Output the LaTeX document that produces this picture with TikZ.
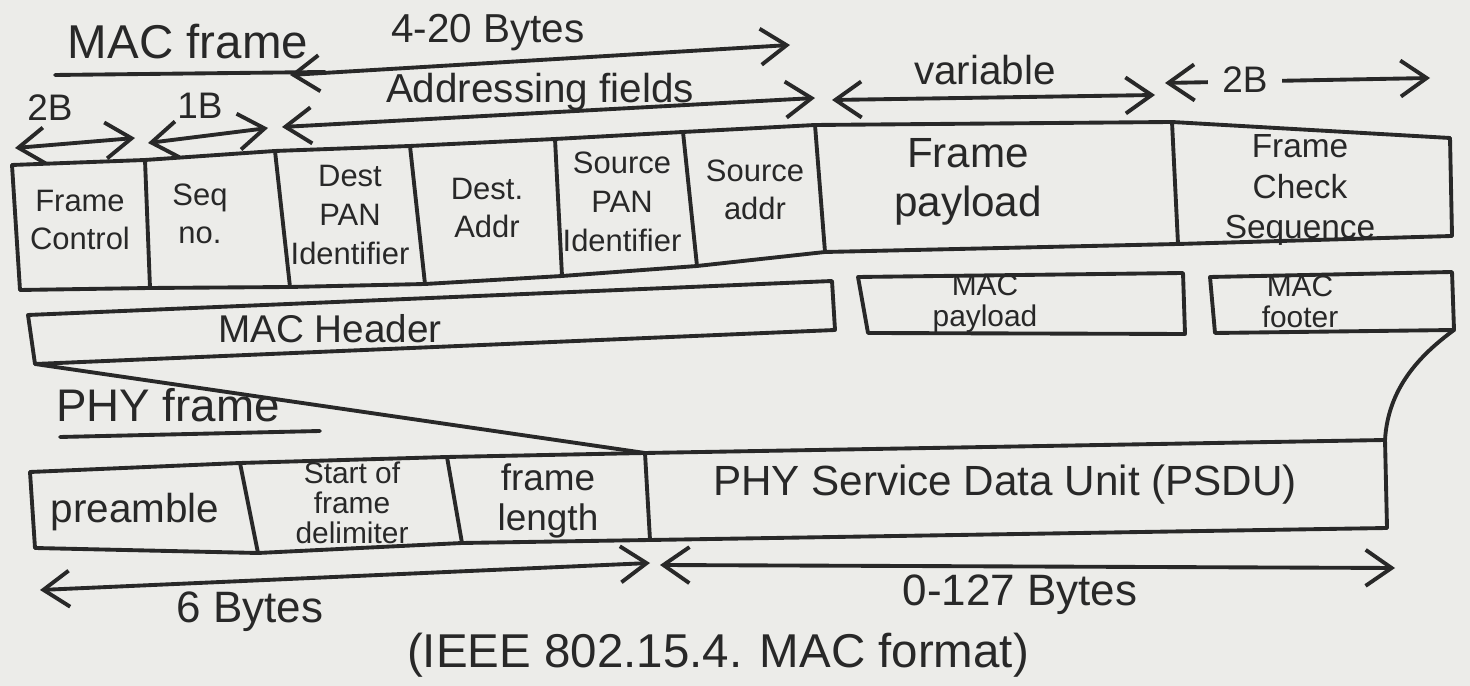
\documentclass[tikz,border=0pt]{standalone}
\usepackage{fontspec}
\setmainfont{Liberation Sans}
\usetikzlibrary{arrows.meta}
\definecolor{paper}{RGB}{236,236,233}
\definecolor{ink}{RGB}{40,40,40}
\tikzset{
  pen/.style={draw=ink, line width=1.1pt, line cap=round, line join=round},
  dimline/.style={pen, {Straight Barb[length=2.6mm,width=3.6mm]}-{Straight Barb[length=2.6mm,width=3.6mm]}},
  cell/.style={text=ink, font=\fontsize{8.8}{11}\selectfont, align=center, inner sep=1pt},
  bigcell/.style={text=ink, font=\fontsize{12}{14}\selectfont, align=center, inner sep=1pt},
  lbl/.style={text=ink, font=\fontsize{11.5}{13}\selectfont, inner sep=1pt},
  title/.style={text=ink, font=\fontsize{13.5}{16}\selectfont, inner sep=1pt},
}
\begin{document}
\begin{tikzpicture}[x=0.01cm,y=-0.01cm]
\fill[paper] (0,0) rectangle (1470,686);
\useasboundingbox (0,0) rectangle (1470,686);

% ---------- top labels and dimension arrows ----------
\node[title] (macframe) at (188,42) {MAC frame};
\draw[pen] (55,75) -- (325,72);
\node[lbl] (b420) at (488,33) {4-20 Bytes};
\coordinate (a1l) at (290,75); \coordinate (a1r) at (790,45);
\draw[dimline] (a1l) -- (a1r);

\node[lbl] (addr) at (540,92) {Addressing fields};
\coordinate (a2l) at (282,127); \coordinate (a2r) at (815,98);
\draw[dimline] (a2l) -- (a2r);

\node[lbl, font=\fontsize{10.5}{12}\selectfont] (twoB) at (50,108) {2B};
\coordinate (a3l) at (15,148); \coordinate (a3r) at (135,138);
\draw[dimline] (a3l) -- (a3r);

\node[lbl, font=\fontsize{10.5}{12}\selectfont] (oneB) at (200,106) {1B};
\coordinate (a4l) at (148,143); \coordinate (a4r) at (268,128);
\draw[dimline] (a4l) -- (a4r);

\node[lbl] (var) at (985,70) {variable};
\coordinate (a5l) at (832,100); \coordinate (a5r) at (1155,95);
\draw[dimline] (a5l) -- (a5r);

\coordinate (a6l) at (1165,83); \coordinate (a6r) at (1430,78);
\draw[dimline] (a6l) -- (a6r);
\node[lbl, font=\fontsize{10.5}{12}\selectfont, fill=paper, inner sep=4pt] (twoBb) at (1245,80) {2B};

% ---------- MAC frame row ----------
\coordinate (t0) at (12,165);   \coordinate (b0) at (20,290);
\coordinate (t1) at (145,160);  \coordinate (b1) at (150,288);
\coordinate (t2) at (275,151);  \coordinate (b2) at (290,287);
\coordinate (t3) at (410,146);  \coordinate (b3) at (425,284);
\coordinate (t4) at (555,139);  \coordinate (b4) at (562,276);
\coordinate (t5) at (683,132);  \coordinate (b5) at (697,266);
\coordinate (t6) at (815,125);  \coordinate (b6) at (825,252);
\coordinate (t7) at (1172,122); \coordinate (b7) at (1178,244);
\coordinate (t8) at (1450,138); \coordinate (b8) at (1452,236);
\draw[pen] (t0) -- (t1) -- (t2) -- (t3) -- (t4) -- (t5) -- (t6) -- (t7) -- (t8);
\draw[pen] (b0) -- (b1) -- (b2) -- (b3) -- (b4) -- (b5) -- (b6) -- (b7) -- (b8);
\foreach \i in {0,...,8} { \draw[pen] (t\i) -- (b\i); }

\node[cell] (fc)   at (80,220)   {Frame\\Control};
\node[cell] (seq)  at (200,214)  {Seq\\no.};
\node[cell] (dpan) at (350,215)  {Dest\\PAN\\Identifier};
\node[cell] (dadr) at (487,208)  {Dest.\\Addr};
\node[cell] (span) at (622,202)  {Source\\PAN\\Identifier};
\node[cell] (sadr) at (755,190)  {Source\\addr};
\node[bigcell] (fp)  at (968,182)  {Frame\\payload};
\node[cell, font=\fontsize{9.5}{11.5}\selectfont] (fcs) at (1300,190) {Frame\\Check\\Sequence};

% ---------- MAC header / payload / footer ----------
\coordinate (h1) at (28,315);  \coordinate (h2) at (832,281);
\coordinate (h3) at (835,330); \coordinate (h4) at (35,364);
\draw[pen] (h1) -- (h2) -- (h3) -- (h4) -- cycle;
\node[text=ink, font=\fontsize{11}{13}\selectfont, inner sep=1pt] (machdr) at (330,329) {MAC Header};

\coordinate (p1) at (858,277);  \coordinate (p2) at (1183,273);
\coordinate (p3) at (1185,334); \coordinate (p4) at (868,333);
\draw[pen] (p1) -- (p2) -- (p3) -- (p4) -- cycle;
\node[cell, font=\fontsize{8.5}{8.8}\selectfont] (macpl) at (985,304) {MAC\\payload};

\coordinate (f1) at (1210,277);  \coordinate (f2) at (1452,272);
\coordinate (f3) at (1454,330);  \coordinate (f4) at (1215,333);
\draw[pen] (f1) -- (f2) -- (f3) -- (f4) -- cycle;
\node[cell, font=\fontsize{8.5}{8.8}\selectfont] (macft) at (1300,302) {MAC\\footer};

% ---------- PHY frame row ----------
\node[title, font=\fontsize{13}{15}\selectfont] (phyframe) at (168,405) {PHY frame};
\draw[pen] (60,437) -- (320,431);

\coordinate (q0) at (30,472);   \coordinate (r0) at (35,548);
\coordinate (q1) at (240,463);  \coordinate (r1) at (258,553);
\coordinate (q2) at (447,457);  \coordinate (r2) at (462,543);
\coordinate (q3) at (645,453);  \coordinate (r3) at (650,540);
\coordinate (q4) at (1385,440); \coordinate (r4) at (1387,528);
\draw[pen] (q0) -- (q1) -- (q2) -- (q3) -- (q4);
\draw[pen] (r0) -- (r1) -- (r2) -- (r3) -- (r4);
\foreach \i in {0,...,4} { \draw[pen] (q\i) -- (r\i); }

\node[bigcell, font=\fontsize{11.5}{13}\selectfont] (pre)  at (135,512) {preamble};
\node[cell, font=\fontsize{8.5}{8.6}\selectfont] (sfd) at (352,503) {Start of\\frame\\delimiter};
\node[bigcell, font=\fontsize{10.5}{11.5}\selectfont] (flen) at (548,501) {frame\\length};
\node[bigcell] (psdu) at (1005,485) {PHY Service Data Unit (PSDU)};

% connectors between MAC and PHY frames
\draw[pen] (h4) -- (q3);
\draw[pen] (f3) .. controls (1420,355) and (1388,388) .. (q4);

% ---------- bottom dimension arrows ----------
\coordinate (a7l) at (40,590);  \coordinate (a7r) at (650,563);
\draw[dimline] (a7l) -- (a7r);
\node[lbl, font=\fontsize{12.5}{15}\selectfont] (six) at (250,612) {6 Bytes};
\coordinate (a8l) at (660,565); \coordinate (a8r) at (1395,568);
\draw[dimline] (a8l) -- (a8r);
\node[lbl, font=\fontsize{12.5}{15}\selectfont] (o127) at (1020,595) {0-127 Bytes};

\node[title, font=\fontsize{13.5}{15}\selectfont] (caption) at (718,655) {(IEEE 802.15.4. MAC format)};
\end{tikzpicture}
\end{document}
